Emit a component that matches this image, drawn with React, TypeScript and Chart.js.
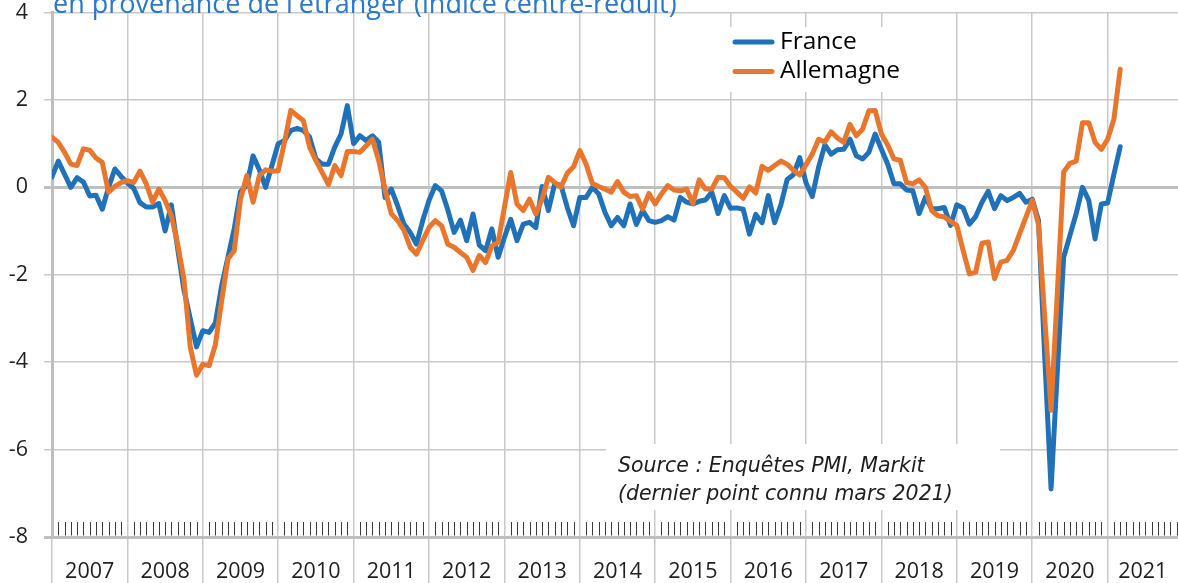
import React, { useEffect, useRef } from 'react';
import { Chart, registerables } from 'chart.js';

Chart.register(...registerables);

// ---------- data ----------
const YEARS = [2007, 2008, 2009, 2010, 2011, 2012, 2013, 2014, 2015, 2016, 2017, 2018, 2019, 2020, 2021];
const Y_TICKS = [-8, -6, -4, -2, 0, 2, 4];
const SERIES_LABELS = ['France', 'Allemagne'];

// monthly values, Jan 2007 -> Mar 2021
const FRANCE = [
  0.24, 0.6, 0.3, 0.0, 0.22, 0.12, -0.2, -0.18, -0.5, 0.0, 0.42, 0.25,
  0.1, -0.02, -0.35, -0.45, -0.45, -0.37, -1.0, -0.4, -1.4, -2.35, -3.0, -3.65,
  -3.28, -3.32, -3.1, -2.25, -1.6, -0.95, -0.1, 0.05, 0.72, 0.4, 0.0, 0.5,
  1.0, 1.07, 1.3, 1.35, 1.3, 1.15, 0.65, 0.53, 0.53, 0.92, 1.22, 1.87,
  1.0, 1.18, 1.07, 1.18, 1.03, -0.23, -0.04, -0.42, -0.84, -1.03, -1.3, -0.76,
  -0.3, 0.04, -0.08, -0.52, -1.03, -0.75, -1.22, -0.61, -1.32, -1.45, -0.95, -1.6,
  -1.15, -0.73, -1.22, -0.84, -0.8, -0.92, 0.02, -0.53, 0.08, 0.05, -0.46, -0.88,
  -0.23, -0.23, 0.0, -0.15, -0.57, -0.88, -0.69, -0.88, -0.38, -0.85, -0.53, -0.76,
  -0.8, -0.76, -0.67, -0.75, -0.23, -0.34, -0.38, -0.32, -0.29, -0.11, -0.6, -0.19,
  -0.48, -0.47, -0.5, -1.07, -0.62, -0.81, -0.19, -0.81, -0.4, 0.18, 0.29, 0.68,
  0.1, -0.21, 0.46, 0.97, 0.76, 0.86, 0.87, 1.1, 0.72, 0.65, 0.8, 1.22,
  0.87, 0.53, 0.08, 0.08, -0.06, -0.08, -0.6, -0.23, -0.49, -0.49, -0.46, -0.87,
  -0.4, -0.47, -0.84, -0.67, -0.34, -0.09, -0.49, -0.19, -0.3, -0.23, -0.14, -0.34,
  -0.27, -0.76, -3.9, -6.9, -4.2, -1.6, -1.1, -0.6, 0.0, -0.3, -1.18, -0.38,
  -0.36, 0.3, 0.93,
];

const ALLEMAGNE = [
  1.15, 1.03, 0.8, 0.53, 0.5, 0.88, 0.85, 0.67, 0.57, -0.11, 0.02, 0.11,
  0.15, 0.11, 0.37, 0.08, -0.34, -0.04, -0.3, -0.65, -1.3, -2.1, -3.65, -4.3,
  -4.05, -4.08, -3.6, -2.6, -1.64, -1.45, -0.27, 0.27, -0.34, 0.27, 0.4, 0.37,
  0.38, 1.03, 1.76, 1.64, 1.53, 0.92, 0.61, 0.34, 0.06, 0.5, 0.27, 0.82,
  0.82, 0.8, 0.95, 1.1, 0.61, -0.05, -0.6, -0.76, -0.98, -1.37, -1.53, -1.22,
  -0.92, -0.76, -0.88, -1.3, -1.37, -1.49, -1.6, -1.9, -1.56, -1.72, -1.34, -1.26,
  -0.46, 0.34, -0.38, -0.53, -0.27, -0.61, -0.27, 0.23, 0.11, 0.0, 0.32, 0.47,
  0.84, 0.53, 0.09, 0.02, -0.04, -0.11, 0.13, -0.11, -0.21, -0.19, -0.5, -0.14,
  -0.38, -0.15, 0.04, -0.06, -0.08, -0.04, -0.37, 0.17, -0.04, -0.04, 0.23, 0.22,
  0.02, -0.11, -0.25, 0.01, -0.13, 0.48, 0.39, 0.5, 0.6, 0.53, 0.39, 0.28,
  0.52, 0.76, 1.1, 1.04, 1.27, 1.13, 1.03, 1.44, 1.18, 1.33, 1.75, 1.76,
  1.22, 0.97, 0.65, 0.62, 0.11, 0.08, 0.17, 0.0, -0.53, -0.65, -0.68, -0.78,
  -0.87, -1.44, -1.98, -1.94, -1.28, -1.25, -2.09, -1.71, -1.67, -1.44, -1.06, -0.68,
  -0.3, -0.85, -3.0, -5.1, -2.4, 0.35, 0.55, 0.6, 1.48, 1.48, 1.03, 0.87,
  1.1, 1.56, 2.7,
];

const TITLE_TEXT = "en provenance de l'étranger (indice centré-réduit)";
const SOURCE_LINES = ['Source : Enquêtes PMI, Markit', '(dernier point connu mars 2021)'];

// ---------- style ----------
const BLUE = '#2171b8';
const ORANGE = '#e8762d';
const GRID = '#c9c9c9';
const AXIS = '#bfbfbf';
const TEXT = '#1e1e1e';
const FONT = '"Open Sans", "Liberation Sans", sans-serif';
const SOURCE_FONT = '"DejaVu Sans", "Liberation Sans", sans-serif';
const X_MAX = 179.2; // months shown on the axis

const yearStarts = YEARS.map((_, k) => k * 12);
const yearMids = YEARS.map((_, k) => (k * 12 + Math.min(k * 12 + 12, X_MAX)) / 2);
const X_TICKS = [...yearStarts, ...yearMids].sort((a, b) => a - b);

const isBoundary = (v: number) => Math.abs(v % 12) < 1e-9;

const overlayPlugin = {
  id: 'overlay',
  beforeDatasetsDraw(chart: any) {
    const { ctx, chartArea, scales } = chart;
    const xs = scales.x;
    ctx.save();
    // monthly minor ticks (inside, above the bottom axis)
    ctx.strokeStyle = '#3a3a3a';
    ctx.lineWidth = 1;
    for (let i = 1; i < X_MAX; i++) {
      if (i % 12 === 0) continue;
      const px = Math.round(xs.getPixelForValue(i)) + 0.5;
      ctx.beginPath();
      ctx.moveTo(px, chartArea.bottom - 15);
      ctx.lineTo(px, chartArea.bottom - 1.5);
      ctx.stroke();
    }

    // legend box
    const lx = 730, ly = 27, lw = 182, lh = 65;
    ctx.fillStyle = '#ffffff';
    ctx.fillRect(lx, ly, lw, lh);
    const colors = [BLUE, ORANGE];
    SERIES_LABELS.forEach((label, k) => {
      const cy = 42 + k * 29.5;
      ctx.strokeStyle = colors[k];
      ctx.lineWidth = 5;
      ctx.lineCap = 'round';
      ctx.beginPath();
      ctx.moveTo(735, cy);
      ctx.lineTo(772, cy);
      ctx.stroke();
      ctx.fillStyle = '#000000';
      ctx.font = `24.5px ${FONT}`;
      ctx.textBaseline = 'middle';
      ctx.textAlign = 'left';
      ctx.fillText(label, 780, cy);
    });

    // source box
    ctx.fillStyle = '#ffffff';
    ctx.fillRect(606, 444, 394, 66);
    ctx.fillStyle = TEXT;
    ctx.font = `italic 20.5px ${SOURCE_FONT}`;
    ctx.textBaseline = 'alphabetic';
    ctx.textAlign = 'left';
    ctx.fillText(SOURCE_LINES[0], 618, 472);
    ctx.fillText(SOURCE_LINES[1], 618, 500);
    ctx.restore();
  },
  afterDraw(chart: any) {
    const { ctx } = chart;
    ctx.save();
    ctx.fillStyle = '#2a78c8';
    ctx.font = `27px ${FONT}`;
    ctx.textBaseline = 'alphabetic';
    ctx.textAlign = 'left';
    ctx.fillText(TITLE_TEXT, 53, 12.5);
    ctx.restore();
  },
};

export default function App() {
  const ref = useRef<HTMLCanvasElement>(null);

  useEffect(() => {
    if (!ref.current) return;
    const chart = new Chart(ref.current, {
      type: 'line',
      data: {
        datasets: [
          {
            label: SERIES_LABELS[0],
            data: FRANCE.map((v, i) => ({ x: i, y: v })),
            borderColor: BLUE,
            backgroundColor: BLUE,
            borderWidth: 5,
            pointRadius: 0,
            tension: 0,
            borderJoinStyle: 'round',
            borderCapStyle: 'round',
            order: 1,
          },
          {
            label: SERIES_LABELS[1],
            data: ALLEMAGNE.map((v, i) => ({ x: i, y: v })),
            borderColor: ORANGE,
            backgroundColor: ORANGE,
            borderWidth: 5,
            pointRadius: 0,
            tension: 0,
            borderJoinStyle: 'round',
            borderCapStyle: 'round',
            order: 0,
          },
        ],
      },
      options: {
        responsive: false,
        animation: false,
        devicePixelRatio: 1,
        layout: { padding: { top: 12.5, right: 0, left: 0, bottom: 0 } },
        plugins: {
          legend: { display: false },
          tooltip: { enabled: false },
          title: { display: false },
        },
        scales: {
          x: {
            type: 'linear',
            min: 0,
            max: X_MAX,
            afterBuildTicks: (s: any) => {
              s.ticks = X_TICKS.map((v) => ({ value: v }));
            },
            afterFit: (s: any) => {
              s.height = 46;
              s.paddingLeft = 0;
              s.paddingRight = 0;
            },
            ticks: {
              autoSkip: false,
              maxRotation: 0,
              minRotation: 0,
              padding: -24,
              color: TEXT,
              font: { family: FONT, size: 21.5 },
              callback: (value: any) => {
                const v = Number(value);
                if (isBoundary(v)) return '';
                return String(YEARS[Math.floor(v / 12)]);
              },
            },
            grid: {
              drawOnChartArea: true,
              tickLength: 46,
              lineWidth: 1.5,
              color: (c: any) => (c.tick && isBoundary(c.tick.value) ? GRID : 'rgba(0,0,0,0)'),
            },
            border: { display: false },
          },
          y: {
            min: -8,
            max: 4,
            afterBuildTicks: (s: any) => {
              s.ticks = Y_TICKS.map((v) => ({ value: v }));
            },
            afterFit: (s: any) => {
              s.width = 52;
              s.paddingTop = 0;
              s.paddingBottom = 0;
            },
            ticks: {
              padding: 16,
              color: TEXT,
              font: { family: FONT, size: 21.5 },
            },
            grid: {
              tickLength: 8,
              color: (c: any) => (c.tick && (c.tick.value === 0 || c.tick.value === -8) ? AXIS : GRID),
              lineWidth: (c: any) => (c.tick && (c.tick.value === 0 || c.tick.value === -8) ? 3 : 1.5),
            },
            border: { display: true, color: AXIS, width: 3 },
          },
        },
      },
      plugins: [overlayPlugin],
    } as any);
    return () => chart.destroy();
  }, []);

  return (
    <div style={{ position: 'fixed', left: 0, top: 0, width: 1178, height: 583, background: '#fff' }}>
      <canvas ref={ref} width={1178} height={583} style={{ display: 'block', width: 1178, height: 583 }} />
    </div>
  );
}
